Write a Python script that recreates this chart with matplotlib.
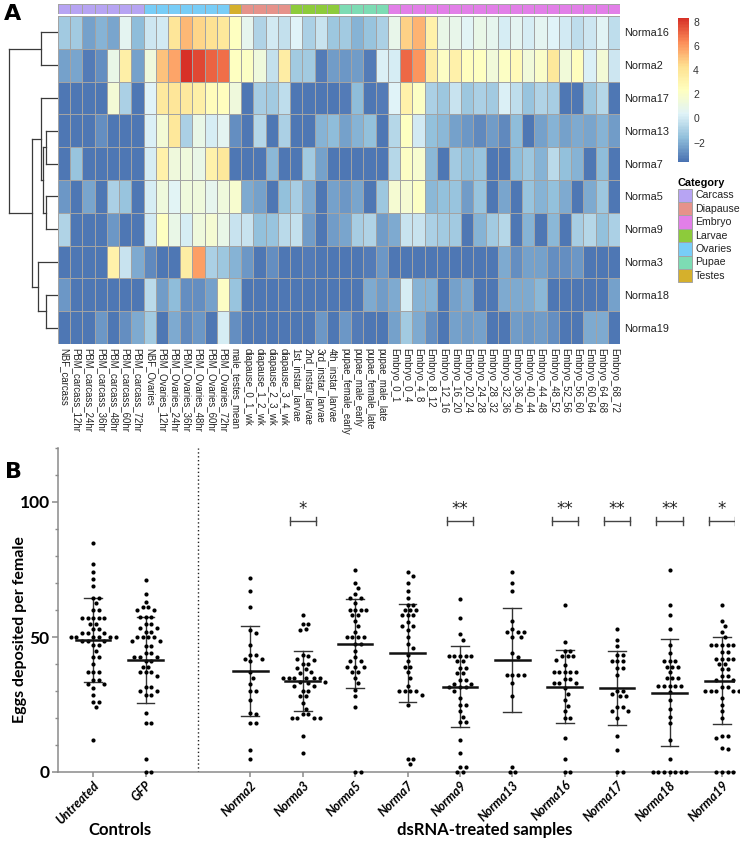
import numpy as np
import matplotlib
matplotlib.use("Agg")
import matplotlib.pyplot as plt
from matplotlib.colors import LinearSegmentedColormap, ListedColormap
from matplotlib.patches import Rectangle

# ---------------- Panel A data ----------------
columns = ["NBF_carcass", "PBM_carcass_12hr", "PBM_carcass_24hr", "PBM_carcass_36hr",
           "PBM_carcass_48hr", "PBM_carcass_60hr", "PBM_carcass_72hr",
           "NBF_Ovaries", "PBM_Ovaries_12hr", "PBM_Ovaries_24hr", "PBM_Ovaries_36hr",
           "PBM_Ovaries_48hr", "PBM_Ovaries_60hr", "PBM_Ovaries_72hr",
           "male_testes_mean",
           "diapause_0_1_wk", "diapause_1_2_wk", "diapause_2_3_wk", "diapause_3_4_wk",
           "1st_instar_larvae", "2nd_instar_larvae", "3rd_instar_larvae", "4th_instar_larvae",
           "pupae_female_early", "pupae_male_early", "pupae_female_late", "pupae_male_late",
           "Embryo_0_1", "Embryo_0_4", "Embryo_4_8", "Embryo_8_12", "Embryo_12_16",
           "Embryo_16_20", "Embryo_20_24", "Embryo_24_28", "Embryo_28_32", "Embryo_32_36",
           "Embryo_36_40", "Embryo_40_44", "Embryo_44_48", "Embryo_48_52", "Embryo_52_56",
           "Embryo_56_60", "Embryo_60_64", "Embryo_64_68", "Embryo_68_72"]
column_category = (["Carcass"] * 7 + ["Ovaries"] * 7 + ["Testes"] + ["Diapause"] * 4 +
                   ["Larvae"] * 4 + ["Pupae"] * 4 + ["Embryo"] * 19)
categories = ["Carcass", "Diapause", "Embryo", "Larvae", "Ovaries", "Pupae", "Testes"]
category_colors = ["#b7a4f3", "#e6928a", "#e27fe8", "#8dcb3b", "#78cdf7", "#7ddcb4", "#d5b02c"]

row_names = ["Norma16", "Norma2", "Norma17", "Norma13", "Norma7",
             "Norma5", "Norma9", "Norma3", "Norma18", "Norma19"]

norma16 = [-1.2, -1.2, -2.4, -1.9, -2.2, 0.6, -1.6,
           -0.1, 0.0, 4.0, 5.3, 4.5, 4.2, 3.8,
           2.3,
           0.7, -0.8, 0.0, -0.3,
           0.4, -0.9, -0.2, -1.3,
           -1.2, -1.9, -1.4, -0.9,
           0.9, 4.7, 5.4, 3.3, 1.0, 0.9, 0.5, 1.0, 0.7, 0.1, 0.6, 0.1, 0.6, 0.4, 0.0, -0.5, -0.1, 0.5, -0.5]
norma2 = [-2.4, -2.2, -3.3, -2.8, 1.0, 3.4, -2.4,
          1.3, 5.0, 5.7, 8.2, 7.8, 7.2, 6.9,
          2.3,
          2.2, 1.3, -0.3, 3.5,
          -1.2, -1.2, -3.3, -2.5,
          -2.6, -2.5, -3.3, 0.3,
          0.2, 7.1, 6.1, 3.5, 2.2, 3.2, 2.4, 2.3, 1.5, 2.2, 2.7, 1.4, 2.1, 3.8, 1.5, 2.4, 0.3, 1.6, -0.1]
norma17 = [-3.4, -3.4, -3.4, -3.4, 1.6, -0.9, -3.4,
           0.4, 3.7, 3.9, 3.7, 3.4, 2.5, 2.4,
           1.3,
           -3.4, -1.0, -1.2, -0.4,
           -3.4, -3.4, -3.4, -3.4,
           -3.3, -1.6, -3.4, -3.3,
           0.4, 3.2, 2.2, -0.9, -1.3, -0.2, -1.3, -0.9, -1.2, 0.3, -0.5, -1.4, -0.8, -1.0, -3.4, -3.4, -1.3, -0.7, -3.4]
norma13 = [-3.4, -3.4, -3.4, -2.8, -3.4, -3.4, -3.4,
           0.3, 1.6, 3.8, -0.9, 1.0, 0.1, 0.6,
           -2.8,
           -3.4, -0.7, -3.4, -0.9,
           -3.4, -3.4, -1.9, -1.6,
           -2.3, -1.9, -1.5, -3.4,
           -0.7, 2.3, 0.0, -1.5, -1.7, -2.3, -2.6, -3.0, -2.5, -3.0, -1.6, -3.4, -2.4, -1.9, -2.3, -2.1, -2.2, -1.9, -2.5]
norma7 = [-3.4, -1.4, -3.4, -3.4, -3.4, -3.4, -3.4,
          0.2, 3.3, 1.3, 1.3, 1.0, 3.2, 3.8,
          -3.4,
          -3.4, -3.4, -1.8, -3.4,
          -3.4, -1.2, -2.4, -3.4,
          -3.4, -3.4, -3.4, -3.4,
          -0.7, 2.2, 1.8, -1.7, -3.4, -1.2, -1.6, -1.4, -3.4, -3.4, -1.6, -1.3, -1.9, -0.6, -1.5, -1.9, -3.4, -1.6, -3.4]
norma5 = [-2.6, -3.4, -2.2, -3.4, -0.9, -1.4, -3.4,
          0.1, 1.3, 0.5, 1.3, 1.3, 0.8, 1.3,
          1.8,
          -2.1, -2.4, -3.4, -1.5,
          -1.1, -2.1, -3.4, -2.4,
          -2.6, -2.2, -3.4, -1.3,
          1.7, 1.7, 2.2, -1.8, -1.5, -1.4, -2.5, -1.4, -3.4, -2.2, -3.4, -1.4, -1.9, -1.5, -2.1, -3.4, -2.1, -1.3, -3.4]
norma9 = [-0.8, -3.4, -3.4, -3.4, -2.6, -3.4, -3.4,
          0.0, 2.3, 1.0, 0.2, 1.3, 1.7, 1.0,
          -0.2,
          -0.2, -1.5, -1.4, -0.6,
          -0.3, -2.5, -3.4, -2.5,
          -2.2, -1.0, -0.8, -2.5,
          -2.1, -0.2, -0.2, -0.9, -1.2, -1.2, -3.4, -1.9, -1.2, -0.7, -3.4, -1.9, -3.4, -1.7, -3.4, -1.0, -0.7, -1.5, -0.9]
norma3 = [-3.4, -3.4, -3.4, -3.4, 3.3, -0.2, -2.1,
          -2.9, -3.4, -3.4, 3.5, 5.9, -0.9, -1.3,
          -1.9,
          -2.6, -3.4, -2.8, -3.4,
          -3.4, -3.3, -3.4, -3.4,
          -3.4, -3.4, -3.3, -2.6,
          -3.4, -3.4, -3.4, -3.4, -3.4, -3.4, -3.4, -3.4, -3.4, -2.1, -2.8, -2.3, -2.4, -2.8, -2.8, -2.6, -3.4, -3.4, -3.4]
norma18 = [-2.6, -3.4, -3.4, -3.4, -3.4, -3.4, -3.4,
           -0.6, -2.5, -1.6, -2.8, -2.8, -2.4, 2.2,
           -1.4,
           -3.4, -3.4, -3.4, -3.4,
           -3.4, -3.4, -3.4, -3.4,
           -3.4, -3.4, -2.1, -2.5,
           -2.1, 0.2, -1.9, -1.9, -3.4, -2.4, -2.1, -3.4, -3.4, -2.1, -2.1, -2.1, -1.8, -3.4, -3.4, -3.4, -3.4, -3.4, -2.4]
norma19 = [-3.4, -3.4, -3.4, -2.6, -3.4, -2.8, -2.1,
           -1.2, -3.4, -2.1, -3.0, -2.6, -3.4, 0.1,
           -2.8,
           -3.4, -3.4, -3.4, -3.4,
           -3.4, -3.4, -2.6, -3.4,
           -2.6, -3.3, -3.4, -3.4,
           -2.4, -1.2, -2.1, -2.8, -3.4, -2.4, -2.5, -2.4, -3.4, -3.4, -2.5, -2.6, -2.5, -2.8, -3.4, -3.4, -2.1, -2.1, -3.4]

# dendrogram merges: (child_a, child_b, height); leaves 0..9 are rows top->bottom,
# merge k gets id 10+k
dendro_merges = [(3, 4, 12), (5, 6, 12), (10, 11, 15), (2, 12, 17), (0, 1, 17),
                 (8, 9, 12), (7, 15, 20), (13, 16, 26), (14, 17, 49)]

colorbar_ticks = [-2, 0, 2, 4, 6, 8]

# ---------------- Panel B data ----------------
groups = ["Untreated", "GFP", "Norma2", "Norma3", "Norma5", "Norma7", "Norma9",
          "Norma13", "Norma16", "Norma17", "Norma18", "Norma19"]
untreated = [85, 77, 74, 71.5, 69, 64.5, 64.5, 62.5, 60, 60, 57, 57, 57, 57, 57, 55, 55, 53, 53,
             51.5, 51.5, 51.5, 50, 50, 50, 50, 50, 50, 48.5, 48.5, 48.5, 47, 47, 45, 42.5, 42.5,
             40, 37, 37, 37, 34, 34, 32.5, 32.5, 31, 28.5, 26, 26, 24, 12]
gfp = [71, 66, 63, 61, 61, 60, 60, 57.5, 57.5, 57.5, 55, 55, 53.5, 53.5, 52, 52, 50, 50, 50, 50,
       48.5, 48.5, 46.5, 46.5, 44, 44, 42.5, 42.5, 42.5, 41, 41, 39, 39, 37, 37, 37, 35.5,
       31.5, 31.5, 30, 30, 28.5, 28.5, 22, 18, 18, 5, 0, 0]
norma2_eggs = [72, 67, 61, 52.5, 51.5, 47, 43.5, 43.5, 42, 42, 41, 37, 35, 32.5, 30, 30, 26.5,
               22, 21.5, 18, 18, 8, 5]
norma3_eggs = [58, 55, 55, 53, 52.5, 43.5, 43, 42, 41.5, 40, 40, 38.5, 38, 37, 36.5, 35, 35, 35,
               35, 35, 35, 33.5, 33.5, 33, 32, 32, 30, 30, 28, 28, 25.5, 23.5, 21.5, 21.5, 20,
               20, 20, 20, 13.5, 7]
norma5_eggs = [75, 70, 68, 66, 64.5, 64.5, 62.5, 60, 60, 60, 60, 58, 58, 56, 54, 52, 50, 50, 50,
               50, 47.5, 47.5, 45, 42.5, 41, 41, 39, 39, 39, 37, 37, 35, 33, 30.5, 28, 24, 0, 0]
norma7_eggs = [74, 72.5, 70, 67, 64.5, 62, 62, 60, 60, 60, 58, 58, 58, 55.5, 54, 54, 52.5, 50,
               47.5, 46, 43.5, 41, 39, 39, 37, 35, 32, 30, 30, 30, 30, 28.5, 25, 5, 5, 3]
norma9_eggs = [64, 57, 51, 49, 43, 43, 43, 43, 43, 41, 41, 38.5, 38.5, 36.5, 36.5, 34, 34,
               32.5, 32.5, 31.5, 31.5, 31.5, 30, 27.5, 25, 25, 22.5, 20.5, 18.5, 18.5, 12, 7,
               2, 2, 0, 0]
norma13_eggs = [74, 70, 67, 56, 53, 52, 52, 52, 50, 50, 44, 42.5, 36, 36, 36, 36, 33, 28, 2, 0, 0]
norma16_eggs = [62, 48, 45, 45, 43, 43, 43, 41.5, 39.5, 37, 37, 37, 37, 37, 34.5, 34.5, 33, 33,
                33, 31, 29, 26.5, 24.5, 22.5, 20, 20, 12.5, 5, 0, 0]
norma17_eggs = [53, 49, 46.5, 43.5, 43.5, 41, 41, 41, 38.5, 38.5, 36, 30, 30, 29, 28, 28, 24,
                24, 22.5, 22.5, 20, 13.5, 8, 0, 0]
norma18_eggs = [75, 62, 58, 53, 47, 44, 41, 41, 41, 39, 39, 39, 37, 35, 35, 35, 32, 32, 32, 32,
                32, 29.5, 26.5, 23.5, 20.5, 18, 12, 5, 0, 0, 0, 0, 0, 0, 0]
norma19_eggs = [62, 56, 54, 52, 50, 47, 47, 47, 47, 47, 44.5, 44.5, 42, 42, 42, 42, 40, 40, 38,
                38, 35.5, 35.5, 34, 34, 31.5, 31.5, 30, 30, 30, 30, 30, 27.5, 25, 22.5, 20,
                13.5, 13.5, 12.5, 9, 8.5, 0, 0, 0, 0]
group_centers = [49, 41.5, 37.5, 33.8, 47.4, 44, 31.6, 41.5, 31.6, 31.2, 29.4, 33.8]
group_upper = [64.5, 57.3, 54.2, 44.8, 64.1, 62.1, 46.8, 60.6, 45.2, 44.8, 49.1, 50.1]
group_lower = [33.5, 25.4, 20.9, 22.6, 31.0, 25.8, 16.5, 22.1, 18.0, 17.4, 9.5, 17.7]
group_positions = [0, 1, 3, 4, 5, 6, 7, 8, 9, 10, 11, 12]
significance = ["", "", "", "*", "", "", "**", "", "**", "**", "**", "*"]
sig_level = 93

# ---------------- figure ----------------
W, H = 740, 857
fig = plt.figure(figsize=(W / 100, H / 100), dpi=100)


def px_axes(x0, y0, x1, y1):
    return fig.add_axes([x0 / W, 1 - y1 / H, (x1 - x0) / W, (y1 - y0) / H])


hm_font = "Liberation Sans"
data = np.array([norma16, norma2, norma17, norma13, norma7,
                 norma5, norma9, norma3, norma18, norma19])
ncol = data.shape[1]
nrow = data.shape[0]

cmap = LinearSegmentedColormap.from_list(
    "ph", ["#4a72b2", "#91BFDB", "#E0F3F8", "#FFFFBF", "#FEE090", "#FC8D59", "#D73027"], N=100)
vmin, vmax = -3.6, 8.3

ax_hm = px_axes(58, 16, 620, 344)
mesh = ax_hm.pcolormesh(np.arange(ncol + 1), np.arange(nrow + 1), data, cmap=cmap,
                        vmin=vmin, vmax=vmax, edgecolors="#a3a3a3", linewidth=0.7)
ax_hm.set_xlim(0, ncol)
ax_hm.set_ylim(nrow, 0)
ax_hm.yaxis.tick_right()
ax_hm.set_yticks(np.arange(nrow) + 0.5)
ax_hm.set_yticklabels(row_names, fontsize=7.8, family=hm_font, color="#222222")
ax_hm.set_xticks(np.arange(ncol) + 0.5)
ax_hm.set_xticklabels(columns, rotation=270, fontsize=6.9, family=hm_font, color="#222222",
                      va="top", ha="center")
ax_hm.tick_params(length=0, pad=3)
for s in ax_hm.spines.values():
    s.set_visible(False)

# annotation bar
ax_an = px_axes(58, 4, 620, 14)
cat_idx = np.array([[categories.index(c) for c in column_category]])
ax_an.pcolormesh(np.arange(ncol + 1), [0, 1], cat_idx, cmap=ListedColormap(category_colors),
                 vmin=-0.5, vmax=len(categories) - 0.5, edgecolors="#a3a3a3", linewidth=0.7)
ax_an.set_xlim(0, ncol)
ax_an.axis("off")

# dendrogram
ax_d = px_axes(8, 16, 58, 344)
pos = {i: i + 0.5 for i in range(nrow)}
hgt = {i: 0 for i in range(nrow)}
for k, (a, b, h) in enumerate(dendro_merges):
    nid = nrow + k
    ax_d.plot([hgt[a], h], [pos[a], pos[a]], color="#3a3a3a", lw=0.9)
    ax_d.plot([hgt[b], h], [pos[b], pos[b]], color="#3a3a3a", lw=0.9)
    ax_d.plot([h, h], [pos[a], pos[b]], color="#3a3a3a", lw=0.9)
    pos[nid] = (pos[a] + pos[b]) / 2
    hgt[nid] = h
ax_d.set_xlim(50, 0)
ax_d.set_ylim(nrow, 0)
ax_d.axis("off")

# colorbar
cax = px_axes(678, 18, 689, 162)
cb = fig.colorbar(mesh, cax=cax, ticks=colorbar_ticks)
cb.outline.set_visible(False)
cax.tick_params(length=0, labelsize=7.5, pad=3, labelcolor="#333333")
for t in cax.get_yticklabels():
    t.set_family(hm_font)

# category legend
ax_lg = px_axes(670, 175, 740, 290)
ax_lg.set_xlim(670, 740)
ax_lg.set_ylim(290, 175)
ax_lg.axis("off")
ax_lg.text(678, 183, "Category", fontsize=7.8, fontweight="bold", family=hm_font,
           va="center", ha="left")
for i, (c, col) in enumerate(zip(categories, category_colors)):
    y0 = 188.5 + i * 13.4
    ax_lg.add_patch(Rectangle((678, y0), 13.5, 13.4, facecolor=col, edgecolor="#a3a3a3", lw=0.7))
    ax_lg.text(695, y0 + 6.9, c, fontsize=7.6, family=hm_font, va="center", ha="left",
               color="#222222")

fig.text(4 / W, 1 - 4 / H, "A", fontsize=16, fontweight="bold", va="top", ha="left",
         family="DejaVu Sans")

# ---------------- Panel B ----------------
bfont = "Lato"
ax_b = px_axes(58, 448, 735, 772)
xmin, xmax = -0.67, 12.25
ymin, ymax = 0, 120
ax_b.set_xlim(xmin, xmax)
ax_b.set_ylim(ymin, ymax)
px_per_x = 677 / (xmax - xmin)
px_per_y = 324 / (ymax - ymin)


def swarm_offsets(vals, d=5.6):
    order = np.argsort(vals)[::-1]
    placed = []
    offs = np.zeros(len(vals))
    for i in order:
        y = vals[i] * px_per_y
        k = 0
        while True:
            cand = [0.0] if k == 0 else [k * d / 2, -k * d / 2]
            ok = None
            for c in cand:
                if all((c - px) ** 2 + (y - py) ** 2 >= d ** 2 * 0.95 for px, py in placed):
                    ok = c
                    break
            if ok is not None:
                placed.append((ok, y))
                offs[i] = ok
                break
            k += 1
    return offs / px_per_x


all_groups = [untreated, gfp, norma2_eggs, norma3_eggs, norma5_eggs, norma7_eggs, norma9_eggs,
              norma13_eggs, norma16_eggs, norma17_eggs, norma18_eggs, norma19_eggs]
for gi, vals in enumerate(all_groups):
    vals = np.array(vals, dtype=float)
    x0 = group_positions[gi]
    offs = swarm_offsets(vals)
    ax_b.scatter(x0 + offs, vals, s=9, color="black", zorder=3, clip_on=False, linewidths=0)
    # SD bar
    ax_b.plot([x0, x0], [group_lower[gi], group_upper[gi]], color="#333333", lw=1.0, zorder=2)
    for yv in (group_lower[gi], group_upper[gi]):
        ax_b.plot([x0 - 0.17, x0 + 0.17], [yv, yv], color="#333333", lw=1.0, zorder=2)
    ax_b.plot([x0 - 0.33, x0 + 0.33], [group_centers[gi], group_centers[gi]],
              color="#111111", lw=1.8, zorder=4)
    if significance[gi]:
        ax_b.plot([x0 - 0.25, x0 + 0.25], [sig_level, sig_level], color="#444444", lw=1.0)
        for xe in (x0 - 0.25, x0 + 0.25):
            ax_b.plot([xe, xe], [sig_level - 1.4, sig_level + 1.4], color="#444444", lw=1.0)
        ax_b.text(x0, sig_level + 1.0, significance[gi], ha="center", va="bottom",
                  fontsize=12, family="DejaVu Sans", color="#222222")

ax_b.plot([2, 2], [0, 120], color="#222222", lw=1.0, ls=(0, (1, 1.8)))

for s in ("top", "right"):
    ax_b.spines[s].set_visible(False)
for s in ("left", "bottom"):
    ax_b.spines[s].set_color("#8a8a8a")
    ax_b.spines[s].set_linewidth(1.1)
ax_b.set_yticks([0, 50, 100])
ax_b.set_yticks(np.arange(0, 121, 10), minor=True)
ax_b.tick_params(axis="y", which="major", length=4, width=1.1, color="#8a8a8a",
                 labelsize=12.5, pad=2)
ax_b.tick_params(axis="y", which="minor", length=2.5, width=1.0, color="#8a8a8a")
for t in ax_b.get_yticklabels():
    t.set_family(bfont)
    t.set_fontweight("bold")
ax_b.set_xticks(group_positions)
ax_b.set_xticklabels(groups, rotation=45, ha="right", rotation_mode="anchor",
                     fontsize=9, fontstyle="italic", fontweight="bold", family=bfont)
ax_b.tick_params(axis="x", length=3.5, width=1.1, color="#8a8a8a", pad=1.5)
ax_b.set_ylabel("Eggs deposited per female", fontsize=11.5, fontweight="bold", family=bfont,
                va="center")
ax_b.yaxis.set_label_coords((20 - 58) / 677, (772 - 630) / 324)

fig.text(120 / W, 1 - 830 / H, "Controls", fontsize=12, fontweight="bold", family=bfont,
         ha="center", va="center")
fig.text(485 / W, 1 - 830 / H, "dsRNA-treated samples", fontsize=12, fontweight="bold",
         family=bfont, ha="center", va="center")
fig.text(5 / W, 1 - 462 / H, "B", fontsize=16, fontweight="bold", va="top", ha="left",
         family="DejaVu Sans")

fig.savefig("out.png", dpi=100)
